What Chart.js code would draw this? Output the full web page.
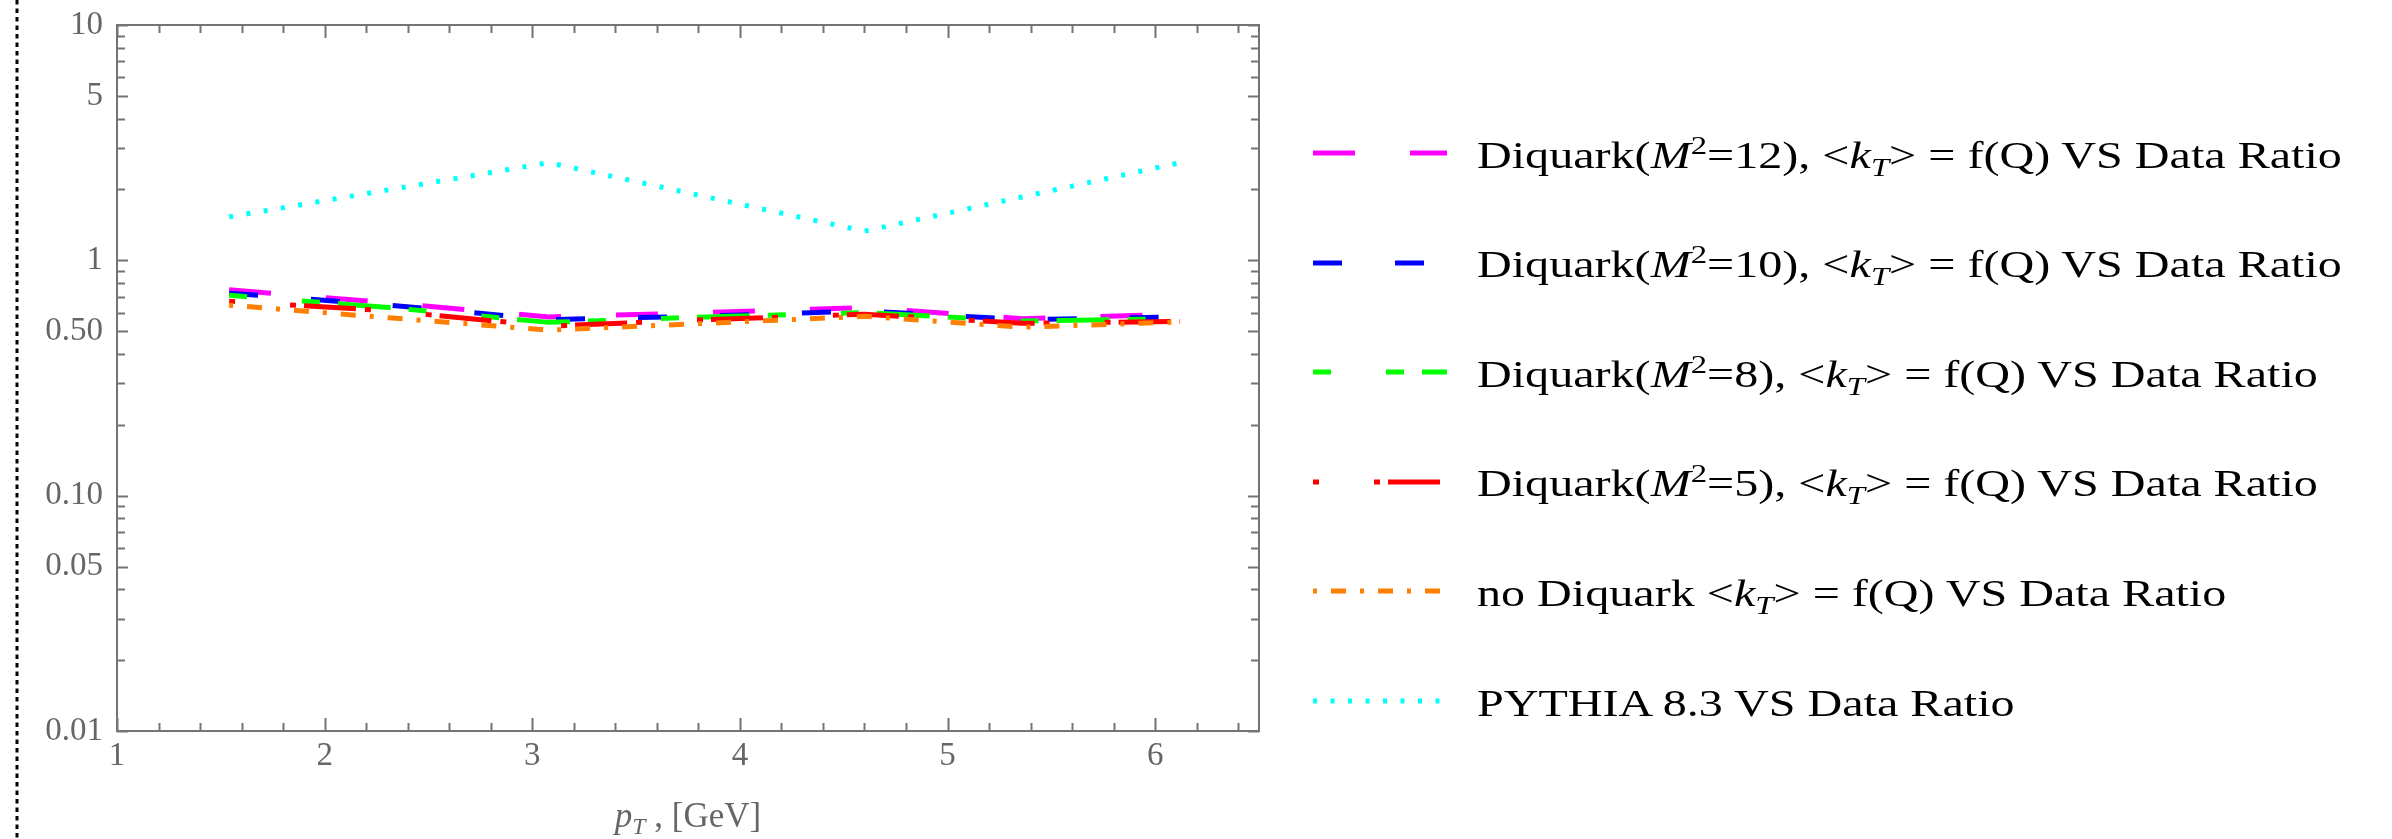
<!DOCTYPE html>
<html>
<head>
<meta charset="utf-8">
<title>pT ratio</title>
<script src="https://cdn.jsdelivr.net/npm/chart.js@4.4.1/dist/chart.umd.min.js"></script>
<style>
  html, body { margin: 0; padding: 0; background: #fff; }
  #wrap { position: relative; width: 2392px; height: 839px; overflow: hidden; }
  #chart { position: absolute; left: 0; top: 0; }
  .axis-title {
    position: absolute; left: 688px; top: 800px; transform: translateX(-50%);
    font: 35px 'Liberation Serif', 'DejaVu Serif', serif; line-height: 32px;
    color: #666; white-space: nowrap;
  }
  .axis-title sub { font-size: 0.68em; vertical-align: -0.3em; line-height: 0; }
  #legend { position: absolute; left: 1313px; top: 0; }
  .row { position: absolute; left: 0; height: 40px; display: flex; align-items: center; white-space: nowrap; }
  .row svg { width: 134px; height: 10px; flex: none; }
  .row span {
    margin-left: 30px; font: 37px 'Liberation Serif', 'DejaVu Serif', serif; color: #000;
    display: inline-block; transform: scaleX(1.3); transform-origin: left center;
    position: relative; top: 2px;
  }
  .row sup { font-size: 0.68em; vertical-align: 0.55em; line-height: 0; }
  .row sub { font-size: 0.68em; vertical-align: -0.3em; line-height: 0; }
</style>
</head>
<body>
<div id="wrap">
  <canvas id="chart" width="2392" height="839"></canvas>
  <div class="axis-title"><i>p</i><sub><i>T</i></sub> , [GeV]</div>
  <div id="legend"></div>
</div>
<script>
// pT bin centres
const pTbins = [1.54, 2.31, 3.08, 3.84, 4.60, 5.36, 6.12];
const pTpythia = [1.54, 3.08, 4.60, 6.12];

// model / data ratios
const ratioM12 = [0.75, 0.66, 0.575, 0.60, 0.63, 0.565, 0.59];
const ratioM10 = [0.725, 0.645, 0.56, 0.58, 0.61, 0.56, 0.575];
const ratioM8 = [0.71, 0.63, 0.545, 0.575, 0.60, 0.552, 0.565];
const ratioM5 = [0.67, 0.61, 0.525, 0.56, 0.59, 0.54, 0.55];
const ratioNoDiquark = [0.645, 0.57, 0.505, 0.54, 0.578, 0.52, 0.547];
const ratioPythia = [1.53, 2.6, 1.33, 2.6];

// axis ticks
const xMajorTicks = [1, 2, 3, 4, 5, 6];
const yMajorTicks = [0.01, 0.05, 0.1, 0.5, 1, 5, 10];
const yTickLabels = ['0.01', '0.05', '0.10', '0.50', '1', '5', '10'];

const seriesLabels = [
    'Diquark(<i>M</i><sup>2</sup>=12), &lt;<i>k</i><sub><i>T</i></sub>&gt; = f(Q) VS Data Ratio',
    'Diquark(<i>M</i><sup>2</sup>=10), &lt;<i>k</i><sub><i>T</i></sub>&gt; = f(Q) VS Data Ratio',
    'Diquark(<i>M</i><sup>2</sup>=8), &lt;<i>k</i><sub><i>T</i></sub>&gt; = f(Q) VS Data Ratio',
    'Diquark(<i>M</i><sup>2</sup>=5), &lt;<i>k</i><sub><i>T</i></sub>&gt; = f(Q) VS Data Ratio',
    'no Diquark &lt;<i>k</i><sub><i>T</i></sub>&gt; = f(Q) VS Data Ratio',
    'PYTHIA 8.3 VS Data Ratio'
];
const seriesX = [pTbins, pTbins, pTbins, pTbins, pTbins, pTpythia];
const seriesY = [ratioM12, ratioM10, ratioM8, ratioM5, ratioNoDiquark, ratioPythia];
const seriesColors = ['#ff00ff', '#0000ff', '#00ff00', '#ff0000', '#ff7f00', '#00ffff'];
const seriesDashes = [
    [42, 55],
    [29, 53],
    [18, 55, 18, 18, 53, 18],
    [6, 55, 6, 8, 52, 9],
    [4, 14, 15, 14],
    [4, 13.5]
];

const frameColor = '#747474';
const labelColor = '#666';
const serif = "'Liberation Serif', 'DejaVu Serif', serif";

const X_MIN = 1, X_MAX = 6.5;
const Y_MIN = 0.01, Y_MAX = 10;

// minor tick positions
function xMinorTicks() {
    const out = [];
    for (let i = 0; X_MIN + i * 0.2 <= X_MAX + 1e-9; i++) {
        const v = +(X_MIN + i * 0.2).toFixed(2);
        if (!xMajorTicks.includes(v)) out.push(v);
    }
    return out;
}
function yMinorTicks() {
    const out = [];
    for (let dec = 0.01; dec < Y_MAX; dec *= 10) {
        for (let m = 2; m <= 9; m++) {
            const v = +(dec * m).toPrecision(3);
            if (!yMajorTicks.some(t => Math.abs(t - v) < 1e-9)) out.push(v);
        }
    }
    return out;
}

// frame with inward ticks on all four sides, plus the dotted separator on the left
const framePlugin = {
    id: 'mmaFrame',
    beforeDraw(chart) {
        const ctx = chart.ctx;
        ctx.save();
        ctx.strokeStyle = '#000';
        ctx.lineWidth = 3;
        ctx.setLineDash([4.5, 4]);
        ctx.beginPath();
        ctx.moveTo(17, 0);
        ctx.lineTo(17, chart.height);
        ctx.stroke();
        ctx.restore();
    },
    afterDatasetsDraw(chart) {
        const { ctx, chartArea: a, scales: { x, y } } = chart;
        ctx.save();
        ctx.strokeStyle = frameColor;
        ctx.lineWidth = 2;
        ctx.strokeRect(a.left, a.top, a.right - a.left, a.bottom - a.top);
        ctx.beginPath();
        const xt = xMajorTicks.map(v => [v, 13]).concat(xMinorTicks().map(v => [v, 8]));
        xt.forEach(([v, len]) => {
            const px = Math.round(x.getPixelForValue(v)) + 0.5;
            ctx.moveTo(px, a.bottom); ctx.lineTo(px, a.bottom - len);
            ctx.moveTo(px, a.top); ctx.lineTo(px, a.top + len);
        });
        const yt = yMajorTicks.map(v => [v, 11]).concat(yMinorTicks().map(v => [v, 8]));
        yt.forEach(([v, len]) => {
            const py = Math.round(y.getPixelForValue(v)) + 0.5;
            ctx.moveTo(a.left, py); ctx.lineTo(a.left + len, py);
            ctx.moveTo(a.right, py); ctx.lineTo(a.right - len, py);
        });
        ctx.stroke();
        ctx.restore();
    }
};

const datasets = seriesY.map((vals, i) => ({
    label: seriesLabels[i].replace(/<[^>]+>/g, '').replace('&lt;', '<').replace('&gt;', '>'),
    data: vals.map((v, j) => ({ x: seriesX[i][j], y: v })),
    borderColor: seriesColors[i],
    borderWidth: 5,
    borderDash: seriesDashes[i],
    borderCapStyle: 'butt',
    pointRadius: 0,
    tension: 0,
    fill: false,
    order: seriesY.length - i
}));

new Chart(document.getElementById('chart'), {
    type: 'line',
    data: { datasets: datasets },
    options: {
        responsive: false,
        animation: false,
        devicePixelRatio: 1,
        layout: { padding: { left: 0, top: 25, right: 2392 - 1259, bottom: 0 } },
        plugins: { legend: { display: false }, tooltip: { enabled: false } },
        scales: {
            x: {
                type: 'linear',
                min: X_MIN,
                max: X_MAX,
                afterBuildTicks: s => { s.ticks = xMajorTicks.map(v => ({ value: v })); },
                afterFit: s => { s.height = 839 - 731; s.paddingLeft = 0; s.paddingRight = 0; },
                grid: { display: false, drawTicks: false },
                border: { display: false },
                ticks: {
                    autoSkip: false,
                    maxRotation: 0,
                    padding: 6,
                    color: labelColor,
                    font: { family: serif, size: 33 },
                    callback: v => String(v)
                }
            },
            y: {
                type: 'logarithmic',
                min: Y_MIN,
                max: Y_MAX,
                afterBuildTicks: s => { s.ticks = yMajorTicks.map(v => ({ value: v })); },
                // keep the plot box fixed; the top label may overhang it
                afterFit: s => { s.width = 117; s.paddingTop = 0; s.paddingBottom = 0; },
                grid: { display: false, drawTicks: false },
                border: { display: false },
                ticks: {
                    autoSkip: false,
                    padding: 14,
                    color: labelColor,
                    font: { family: serif, size: 33 },
                    callback: v => {
                        const i = yMajorTicks.findIndex(t => Math.abs(t - v) < 1e-9);
                        return i >= 0 ? yTickLabels[i] : '';
                    }
                }
            }
        }
    },
    plugins: [framePlugin]
});

// legend on the right
const legend = document.getElementById('legend');
seriesLabels.forEach((html, i) => {
    const row = document.createElement('div');
    row.className = 'row';
    row.style.top = (153 + i * 109.6 - 20) + 'px';
    row.innerHTML =
        '<svg viewBox="0 0 134 10"><line x1="0" y1="5" x2="134" y2="5" stroke="' + seriesColors[i] +
        '" stroke-width="5" stroke-dasharray="' + seriesDashes[i].join(' ') + '"/></svg>' +
        '<span>' + html + '</span>';
    legend.appendChild(row);
});
</script>
</body>
</html>
